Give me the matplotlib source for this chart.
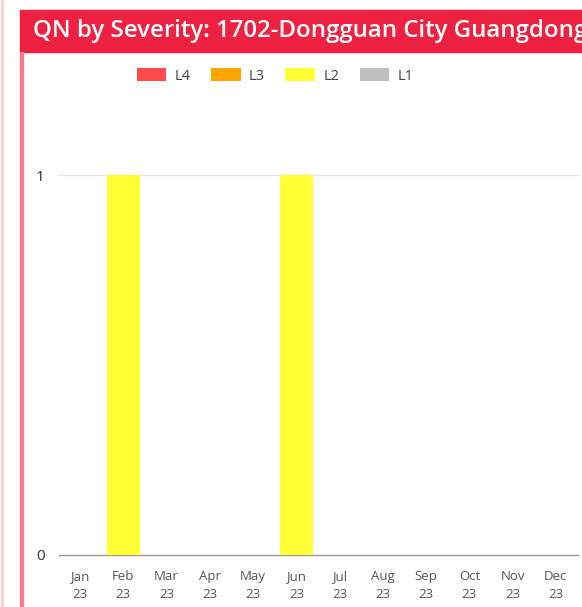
import matplotlib
matplotlib.use("Agg")
import matplotlib.pyplot as plt
from matplotlib.patches import Rectangle
import numpy as np

months = ["Jan\n23", "Feb\n23", "Mar\n23", "Apr\n23", "May\n23", "Jun\n23",
          "Jul\n23", "Aug\n23", "Sep\n23", "Oct\n23", "Nov\n23", "Dec\n23"]
L4 = [0, 0, 0, 0, 0, 0, 0, 0, 0, 0, 0, 0]
L3 = [0, 0, 0, 0, 0, 0, 0, 0, 0, 0, 0, 0]
L2 = [0, 1, 0, 0, 0, 1, 0, 0, 0, 0, 0, 0]
L1 = [0, 0, 0, 0, 0, 0, 0, 0, 0, 0, 0, 0]
series = [("L4", L4, "#FF4B4B"), ("L3", L3, "#FFA500"), ("L2", L2, "#FFFF33"), ("L1", L1, "#BEBEBE")]
title = "QN by Severity: 1702-Dongguan City Guangdong"

W, H = 582, 607
fig = plt.figure(figsize=(W / 100, H / 100), dpi=100)
plt.rcParams['font.family'] = ['Open Sans', 'DejaVu Sans']

# title bar and panel border
fig.patches.append(Rectangle((20 / W, 1 - 52 / H), 1, 42 / H, transform=fig.transFigure,
                             color="#EE2140", zorder=0))
fig.patches.append(Rectangle((20 / W, 0), 3 / W, 1 - 52 / H, transform=fig.transFigure,
                             color="#F27A8C", zorder=0))
fig.patches.append(Rectangle((1 / W, 0), 1.5 / W, 1, transform=fig.transFigure,
                             color="#FBD5DB", zorder=0))
t = fig.text(33 / W, 1 - 31 / H, title, color="white", fontsize=17.3, fontweight="semibold",
             va="center", ha="left")
t.set_clip_on(True)

ax = fig.add_axes([58.5 / W, 1 - 555 / H, (577.5 - 58.5) / W, (555 - 175) / H / 1.0])
x = np.arange(len(months))
bottom = np.zeros(len(months))
handles = []
for name, vals, col in series:
    b = ax.bar(x, vals, bottom=bottom, width=0.78, color=col, label=name, zorder=3)
    bottom += np.array(vals)
    handles.append(b)

ax.set_xlim(-0.5, len(months) - 0.5)
ax.set_ylim(0, 1)
ax.set_yticks([0, 1])
ax.set_yticklabels(["0", "1"], fontsize=11, color="#333333")
ax.set_xticks(x)
ax.set_xticklabels(months, fontsize=9.5, color="#555555", linespacing=1.45)
ax.tick_params(axis="x", length=0, pad=11)
ax.tick_params(axis="y", length=0, pad=10)
for s in ["top", "right", "left"]:
    ax.spines[s].set_visible(False)
ax.spines["bottom"].set_color("#999999")
ax.spines["bottom"].set_linewidth(1.0)
ax.axhline(1, color="#E6E6E6", lw=1, zorder=1, clip_on=False)

fig.legend(handles=handles, labels=[s[0] for s in series], loc="center",
           bbox_to_anchor=(275 / W, 1 - 76 / H), ncol=4, frameon=False,
           fontsize=10.5, handlelength=2.05, handleheight=0.95, columnspacing=1.4,
           handletextpad=0.55, labelcolor="#444444")

fig.savefig("out.png", dpi=100)
